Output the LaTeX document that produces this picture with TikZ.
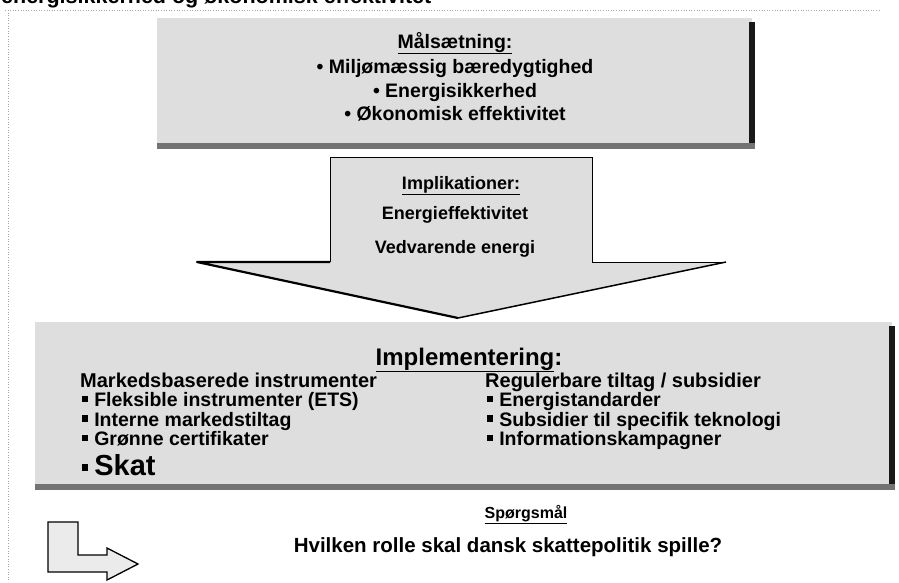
\documentclass[tikz,border=0pt]{standalone}
\usepackage{fontspec}
\setmainfont{Liberation Sans}
\newcommand{\sqbul}{\raisebox{0.22em}{\rule{0.32em}{0.32em}}\hspace{0.3em}}
\newcommand{\fsz}[1]{\fontsize{#1}{#1}\selectfont}
\begin{document}
\begin{tikzpicture}[x=1pt,y=-1pt,
  panel/.style={fill=black!13},
  darkedge/.style={fill=black!90},
  hatchband/.style={fill=black!55},
  scanline/.style={draw=black!35, dotted, line width=0.6pt},
  t/.style={inner sep=0pt, anchor=base, font=\bfseries\fsz{19.5}},
  tl/.style={inner sep=0pt, anchor=base west, font=\bfseries\fsz{19.5}},
  ta/.style={inner sep=0pt, anchor=base, font=\bfseries\fsz{18}}]
\useasboundingbox (0,0) rectangle (899,582);
\clip (0,0) rectangle (899,582);
\fill[white] (0,0) rectangle (899,582);
% scan artefacts
\draw[scanline] (5,10) -- (880,10);
\draw[scanline] (8,10) -- (8,582);
% cut-off title
\node[inner sep=0pt, anchor=base west, font=\bfseries\fsz{21.5}] (title) at (1,3.5) {energisikkerhed og økonomisk effektivitet};

% top box
\fill[panel] (157,18) rectangle (752,146);
\fill[darkedge] (749,22) rectangle (755,149);
\fill[hatchband] (157,143) rectangle (755,149);
\node[t] (goalh) at (455,48) {\underline{Målsætning:}};
\node[t] (g1) at (455,73) {• Miljømæssig bæredygtighed};
\node[t] (g2) at (455,97) {• Energisikkerhed};
\node[t] (g3) at (455,120) {• Økonomisk effektivitet};

% block arrow
\path[panel] (330,157) -- (592,157) -- (592,262) -- (726,262) -- (458,318) -- (197,262) -- (330,262) -- cycle;
\draw[line width=0.9pt] (330,262) -- (330,157) -- (592,157) -- (592,262) -- (726,262);
\draw[line width=2.2pt, line join=round] (330,262) -- (197,262) -- (458,318);
\draw[line width=1.5pt] (726,262) -- (458,318);
\node[ta] (imph) at (461,189) {\underline{Implikationer:}};
\node[ta] (i1) at (455,219) {Energieffektivitet};
\node[ta] (i2) at (455,253) {Vedvarende energi};

% implementation box
\fill[panel] (35,322) rectangle (892,488);
\fill[darkedge] (889,326) rectangle (895,490);
\fill[hatchband] (35,484) rectangle (895,490);
\node[inner sep=0pt, anchor=base, font=\bfseries\fsz{24}] (implh) at (469,365) {\underline{Implementering}:};
\node[tl, font=\bfseries\fsz{20}] (lh) at (80,387) {Markedsbaserede instrumenter};
\node[tl] (l1) at (82,406.5) {\sqbul Fleksible instrumenter (ETS)};
\node[tl] (l2) at (82,426) {\sqbul Interne markedstiltag};
\node[tl] (l3) at (82,445.5) {\sqbul Grønne certifikater};
\node[tl] (l4) at (82,475) {\sqbul{\fsz{29}Skat}};
\node[tl, font=\bfseries\fsz{20}] (rh) at (485,387) {Regulerbare tiltag / subsidier};
\node[tl] (r1) at (487,406.5) {\sqbul Energistandarder};
\node[tl] (r2) at (487,426) {\sqbul Subsidier til specifik teknologi};
\node[tl] (r3) at (487,445.5) {\sqbul Informationskampagner};

% question
\node[inner sep=0pt, anchor=base, font=\bfseries\fsz{16}] (qh) at (526,518) {\underline{Spørgsmål}};
\node[inner sep=0pt, anchor=base, font=\bfseries\fsz{20.5}] (q) at (508,552) {Hvilken rolle skal dansk skattepolitik spille?};

% bent arrow icon
\filldraw[fill=black!8, draw=black, line width=1.3pt, line join=miter]
  (48,522) -- (78,522) -- (78,555) -- (107,555) -- (107,548) -- (138,564)
  -- (107,580) -- (107,572) -- (48,572) -- cycle;
\end{tikzpicture}
\end{document}
